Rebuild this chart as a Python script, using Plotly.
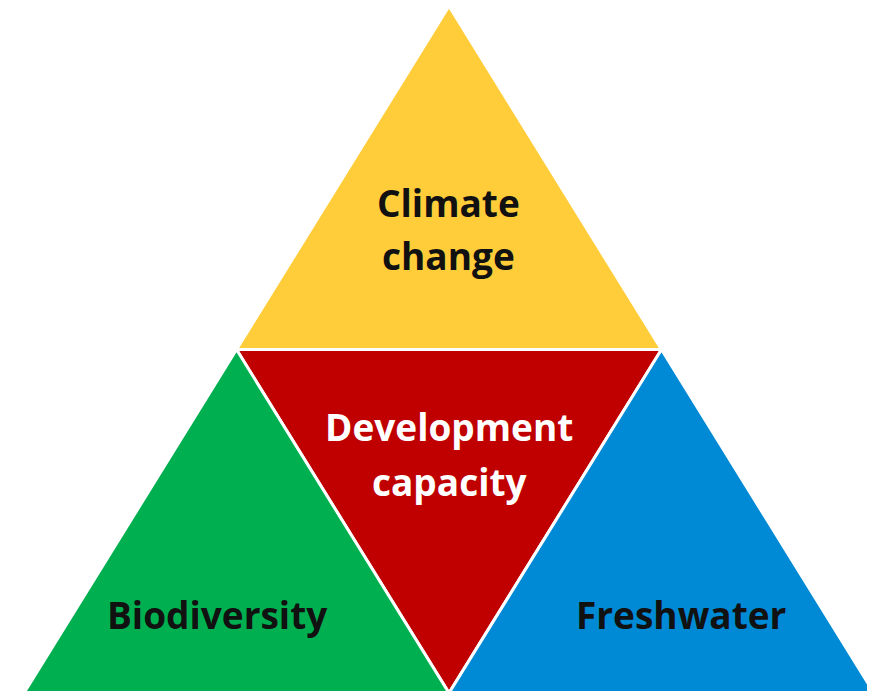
import plotly.graph_objects as go

# ---- data ----
regions = ["Climate change", "Development capacity", "Biodiversity", "Freshwater"]
label_lines = [["Climate", "change"], ["Development", "capacity"], ["Biodiversity"], ["Freshwater"]]
fill_colors = ["#FFCD3A", "#C00000", "#00B050", "#008AD6"]
text_colors = ["#111111", "#FFFFFF", "#111111", "#111111"]

# ---- layout geometry (pixel-like coordinates, y downwards) ----
W, H = 875, 691
PAGE_MARGIN = 8  # default body margin of the html page
apex = (449, 6)
bl = (24, 693)
br = (874, 693)

def mid(p, q):
    return ((p[0] + q[0]) / 2, (p[1] + q[1]) / 2)

ml = mid(apex, bl)
mr = mid(apex, br)
mb = mid(bl, br)

tris = [
    [apex, ml, mr],   # top
    [ml, mr, mb],     # middle (inverted)
    [ml, bl, mb],     # left
    [mr, mb, br],     # right
]

# label anchor positions (centre x, middle y per line)
label_pos = [
    [(448, 202), (448, 255)],
    [(449, 426), (450, 481)],
    [(217, 614)],
    [(681, 614)],
]

fig = go.Figure()
for name, tri, col in zip(regions, tris, fill_colors):
    xs = [p[0] for p in tri] + [tri[0][0]]
    ys = [p[1] for p in tri] + [tri[0][1]]
    fig.add_trace(go.Scatter(
        x=xs, y=ys, mode="lines", fill="toself", fillcolor=col,
        line=dict(color="white", width=3), name=name, hoverinfo="name",
        showlegend=False,
    ))

for lines, poss, tc in zip(label_lines, label_pos, text_colors):
    for txt, (x, y) in zip(lines, poss):
        fig.add_annotation(
            x=x, y=y, text=txt, showarrow=False,
            xanchor="center", yanchor="middle",
            font=dict(family="Open Sans", size=37, color=tc, weight="bold"),
        )

fig.update_layout(
    width=W - PAGE_MARGIN, height=H - PAGE_MARGIN,
    margin=dict(l=0, r=0, t=0, b=0),
    paper_bgcolor="white", plot_bgcolor="white",
    xaxis=dict(range=[PAGE_MARGIN, W], visible=False, fixedrange=True),
    yaxis=dict(range=[H, PAGE_MARGIN], visible=False, fixedrange=True),
)

fig.write_html("out.html")
